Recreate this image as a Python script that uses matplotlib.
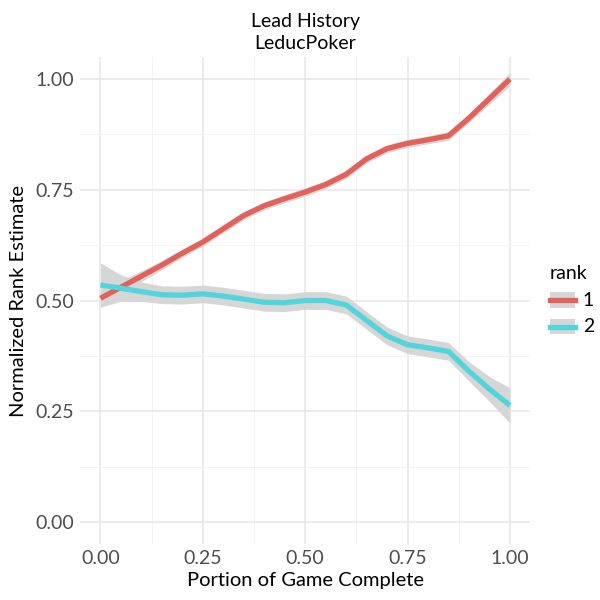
import numpy as np
import matplotlib
matplotlib.use("Agg")
from matplotlib import pyplot as plt
from matplotlib.lines import Line2D
from matplotlib.patches import Rectangle
from matplotlib.legend_handler import HandlerBase

plt.rcParams['font.family'] = ['Lato', 'DejaVu Sans']

# portion of game complete
x = [0.0, 0.05, 0.10, 0.15, 0.20, 0.25, 0.30, 0.35, 0.40, 0.45, 0.50,
     0.55, 0.60, 0.65, 0.70, 0.75, 0.80, 0.85, 0.90, 0.95, 1.0]

# rank 1 smoothed estimate and band half-width
rank1 = [0.505, 0.53, 0.555, 0.58, 0.607, 0.632, 0.662, 0.692, 0.714, 0.73, 0.745,
         0.762, 0.785, 0.82, 0.843, 0.855, 0.863, 0.872, 0.912, 0.956, 1.0]
rank1_se = [0.02, 0.015, 0.012, 0.01, 0.009, 0.009, 0.009, 0.009, 0.009, 0.009, 0.009,
            0.009, 0.009, 0.009, 0.009, 0.009, 0.009, 0.01, 0.01, 0.012, 0.015]

# rank 2 smoothed estimate and band half-width
rank2 = [0.535, 0.528, 0.52, 0.513, 0.512, 0.515, 0.51, 0.503, 0.496, 0.495, 0.5,
         0.5, 0.49, 0.455, 0.42, 0.4, 0.393, 0.385, 0.34, 0.3, 0.263]
rank2_se = [0.05, 0.03, 0.022, 0.02, 0.02, 0.02, 0.02, 0.02, 0.02, 0.02, 0.02,
            0.02, 0.02, 0.02, 0.02, 0.02, 0.02, 0.02, 0.022, 0.028, 0.04]

series = [("1", rank1, rank1_se, "#e0625a"), ("2", rank2, rank2_se, "#52d4dc")]

xticks = [0.0, 0.25, 0.5, 0.75, 1.0]
yticks = [0.0, 0.25, 0.5, 0.75, 1.0]
tick_labels = ["0.00", "0.25", "0.50", "0.75", "1.00"]

fig = plt.figure(figsize=(6, 6), dpi=100)
ax = fig.add_axes([0.1333, 0.0933, 0.7507, 0.8117])

xa = np.array(x)
for name, y, se, col in series:
    y = np.array(y); se = np.array(se)
    ax.fill_between(xa, y - se, y + se, color="#d6d6d6", lw=0, zorder=2)
    ax.plot(xa, y, color=col, lw=3.8, solid_capstyle="butt", solid_joinstyle="round", zorder=3)

ax.set_xlim(-0.05, 1.05)
ax.set_ylim(-0.05, 1.05)
ax.set_xticks(xticks)
ax.set_xticklabels(tick_labels)
ax.set_yticks(yticks)
ax.set_yticklabels(tick_labels)
ax.set_xticks([0.125, 0.375, 0.625, 0.875], minor=True)
ax.set_yticks([0.125, 0.375, 0.625, 0.875], minor=True)
ax.grid(which="major", color="#e6e6e6", lw=1.1, zorder=0)
ax.grid(which="minor", color="#f3f3f3", lw=0.6, zorder=0)
ax.set_axisbelow(True)
for s in ax.spines.values():
    s.set_visible(False)
ax.tick_params(which="both", length=0, labelsize=14, labelcolor="#4d4d4d", pad=4)

ax.set_xlabel("Portion of Game Complete", fontsize=14.5, color="black", labelpad=4)
ax.set_ylabel("Normalized Rank Estimate", fontsize=14.5, color="black", labelpad=6)
ax.set_title("Lead History\nLeducPoker", fontsize=14, color="black", pad=6, linespacing=1.35)


class KeyHandler(HandlerBase):
    def create_artists(self, legend, orig, xd, yd, w, h, fs, trans):
        bg = Rectangle((xd, yd - 1), w, h + 2, facecolor="#d6d6d6", edgecolor="none", transform=trans)
        ln = Line2D([xd, xd + w], [yd + h / 2, yd + h / 2], color=orig.get_color(), lw=3.8, transform=trans)
        return [bg, ln]


handles = [Line2D([], [], color=col) for _, _, _, col in series]
leg = fig.legend(handles, [s[0] for s in series], title="rank", loc="center left",
                 bbox_to_anchor=(0.9, 0.5), frameon=False, fontsize=14, title_fontsize=14,
                 handler_map={Line2D: KeyHandler()}, handlelength=1.3, handleheight=0.6,
                 handletextpad=0.4, labelspacing=0.5, alignment="left", borderpad=0)

fig.savefig("out.png", dpi=100)
